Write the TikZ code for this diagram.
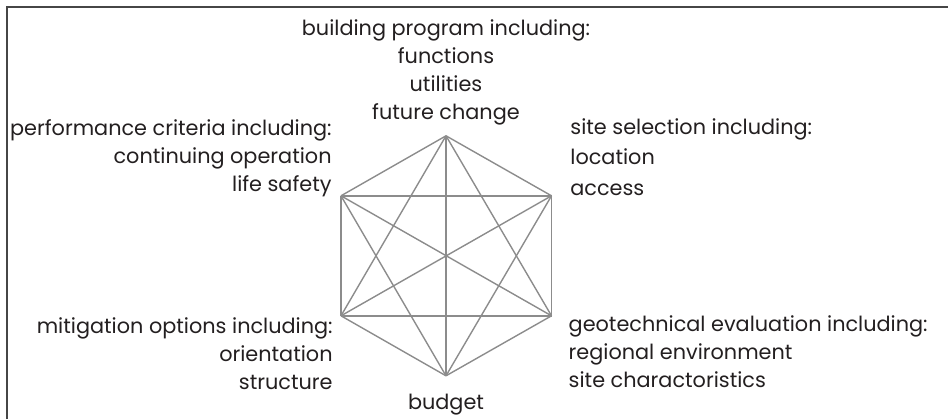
\documentclass[tikz,border=0pt]{standalone}
\usepackage{fontspec}
\setmainfont{Poppins}
\usetikzlibrary{positioning}
\definecolor{inkgray}{RGB}{35,31,32}
\definecolor{edgegray}{RGB}{140,140,140}
\definecolor{framegray}{RGB}{70,70,70}
\tikzset{
    %frame round the figure
    frame/.style={
           draw=framegray,
           line width=0.75pt},
    %text blocks at the corners
    label/.style={
           inner sep=0pt,
           text=inkgray,
           font=\fontsize{10.4}{14}\selectfont},
    % hexagon edges
    link/.style={
           draw=edgegray,
           line width=0.7pt}
}
\begin{document}
\begin{tikzpicture}[x=0.5pt,y=-0.5pt]
\useasboundingbox (0,0) rectangle (948,419);
\draw[frame] (7,419) -- (7,7) -- (948,7);
 %corners of the hexagon
\coordinate (c) at (446,255.8);
\path (c) ++(0,-120) coordinate (top)
      (c) ++(-105,-60) coordinate (ul)
      (c) ++(105.5,-60) coordinate (ur)
      (c) ++(-105,60) coordinate (ll)
      (c) ++(105.5,60) coordinate (lr)
      (c) ++(0,120) coordinate (bot);
 %edges
\path[link]
    (top) edge (ul) edge (ur) edge (ll) edge (lr) edge (bot)
    (ul) edge (ur) edge (ll) edge (lr) edge (bot)
    (ur) edge (ll) edge (lr) edge (bot)
    (ll) edge (lr) edge (bot)
    (lr) edge (bot);
 %texts (anchored at the baseline of the last line)
\node[label, align=center, anchor=base] (prog) at (446,119)
    {building program including:\\functions\\utilities\\future change};
\node[label, align=right, anchor=base east] (perf) at (332,191)
    {performance criteria including:\\continuing operation\\life safety};
\node[label, align=left, anchor=base west, font=\fontsize{10.4}{15.2}\selectfont] (site) at (570,195)
    {site selection including:\\location\\access};
\node[label, align=right, anchor=base east] (mitig) at (333,389)
    {mitigation options including:\\orientation\\structure};
\node[label, align=left, anchor=base west] (geo) at (568.3,387.5)
    {geotechnical evaluation including:\\regional environment\\site charactoristics};
\node[label, anchor=base] (budget) at (446,409) {budget};
\end{tikzpicture}
\end{document}
